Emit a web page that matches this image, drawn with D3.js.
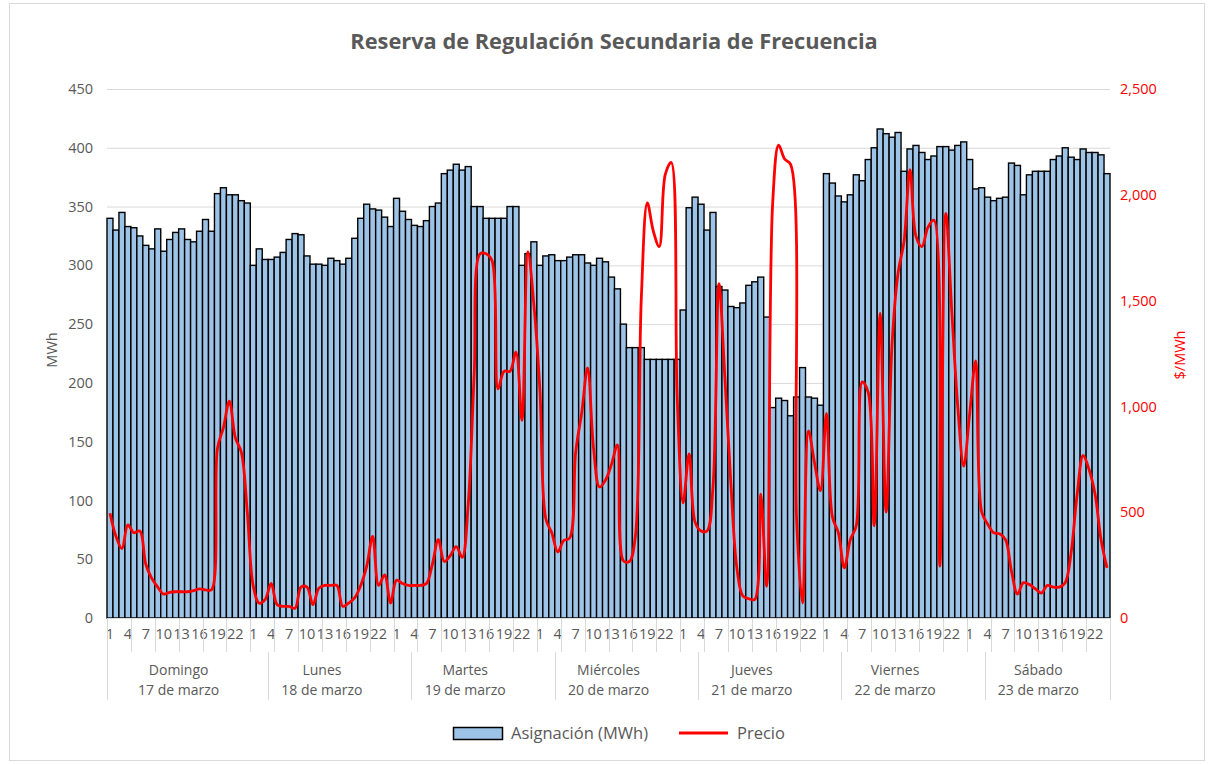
<!DOCTYPE html>
<html><head><meta charset="utf-8">
<script src="https://cdn.jsdelivr.net/npm/d3@7"></script>
<style>body{margin:0;background:#fff} svg{display:block} text{font-family:"Open Sans",sans-serif}</style>
</head><body><svg id="c" width="1211" height="765"></svg>
<script>
const days = ["Domingo","Lunes","Martes","Miércoles","Jueves","Viernes","Sábado"];
const dates = ["17 de marzo","18 de marzo","19 de marzo","20 de marzo","21 de marzo","22 de marzo","23 de marzo"];
const hoursPerDay = 24;
const asignacion = [
 340,330,345,333,332,325,317,314,331,312,322,328,331,322,320,329,339,329,361,366,360,360,355,353,
 300,314,305,305,307,311,322,327,326,308,301,301,300,306,304,301,306,323,340,352,348,347,341,333,
 357,346,339,334,333,338,350,353,378,381,386,381,384,350,350,340,340,340,340,350,350,300,310,320,
 300,308,309,304,304,307,309,309,302,300,306,303,290,280,250,230,230,230,220,220,220,220,220,220,
 262,349,358,352,330,345,282,279,265,264,268,283,286,290,256,179,187,185,172,188,213,188,187,181,
 378,370,359,354,360,377,372,390,400,416,412,409,413,380,399,402,396,390,393,401,401,398,402,405,
 390,365,366,358,355,357,358,387,385,360,377,380,380,380,390,393,400,392,390,399,396,396,394,378];
const precio = [
 495,386,328,440,403,411,254,187,146,113,121,124,124,124,129,138,133,133,801,900,1025,851,784,500,
 150,70,88,163,63,55,55,46,146,146,63,141,154,154,154,55,71,96,154,245,386,154,204,71,
 179,163,154,154,154,163,254,370,267,295,337,287,536,1150,1721,1721,1688,1083,1166,1166,1257,934,1730,1481,
 1083,469,403,312,366,378,784,967,1182,801,619,652,726,818,270,267,386,1514,1962,1829,1755,2095,2153,1050,
 544,776,453,411,411,619,1580,1133,635,237,104,91,88,585,150,1962,2235,2169,2144,469,71,884,735,602,
 967,478,403,237,370,436,1116,1066,436,1440,500,1298,1630,1779,2119,1804,1755,1846,1880,245,1912,1450,1000,718,
 967,1215,502,444,403,398,370,221,113,167,158,138,118,154,146,146,167,312,585,768,701,585,370,237];
const yTicksLeft = [0,50,100,150,200,250,300,350,400,450];
const yTicksRight = [0,500,1000,1500,2000,2500];

const svg = d3.select("#c");
const m = {left:107, right:1110, top:89, bottom:618};
const gray = "#595959", grid = "#d9d9d9";
const cats = d3.range(asignacion.length);
const x = d3.scaleBand().domain(cats).range([m.left, m.right]).padding(0);
const bw = x.bandwidth();
const y = d3.scaleLinear().domain([0,450]).range([m.bottom, m.top]);
const y2 = d3.scaleLinear().domain([0,2500]).range([m.bottom, m.top]);

svg.append("rect").attr("x",9.5).attr("y",3.5).attr("width",1195).attr("height",757)
  .attr("fill","#fff").attr("stroke",grid);

svg.append("text").attr("x",614).attr("y",49).attr("text-anchor","middle")
  .attr("font-size",21.8).attr("font-weight","bold").attr("fill",gray)
  .text("Reserva de Regulación Secundaria de Frecuencia");

// gridlines
svg.append("g").selectAll("line").data(yTicksLeft.filter(d=>d>0)).join("line")
  .attr("x1",m.left).attr("x2",m.right).attr("y1",d=>y(d)+0.5).attr("y2",d=>y(d)+0.5)
  .attr("stroke",grid).attr("stroke-width",1);

// bars
svg.append("g").selectAll("rect").data(asignacion).join("rect")
  .attr("x",(d,i)=>x(i)).attr("y",d=>y(d)).attr("width",bw).attr("height",d=>y(0)-y(d))
  .attr("fill","#9dc3e6").attr("stroke","#000").attr("stroke-width",1.4);

// baseline
svg.append("line").attr("x1",m.left).attr("x2",m.right).attr("y1",m.bottom+0.5).attr("y2",m.bottom+0.5)
  .attr("stroke",grid);

// price line
const line = d3.line().x((d,i)=>x(i)+bw/2).y(d=>y2(d)).curve(d3.curveCatmullRom.alpha(0.5));
svg.append("path").datum(precio).attr("d",line).attr("fill","none")
  .attr("stroke","#ff0000").attr("stroke-width",2.8).attr("stroke-linejoin","round");

const fs = 14.5;
// left axis
const gl = svg.append("g").attr("transform",`translate(${m.left},0)`)
  .call(d3.axisLeft(y).tickValues(yTicksLeft).tickSize(0).tickPadding(14));
gl.select(".domain").remove();
gl.selectAll("text").attr("fill",gray).attr("font-size",fs).attr("font-family","Open Sans");

// right axis
const gr = svg.append("g").attr("transform",`translate(${m.right},0)`)
  .call(d3.axisRight(y2).tickValues(yTicksRight).tickFormat(d3.format(",")).tickSize(0).tickPadding(10));
gr.select(".domain").remove();
gr.selectAll("text").attr("fill","#ff0000").attr("font-size",fs).attr("font-family","Open Sans");

// axis titles
svg.append("text").attr("transform","translate(57,350) rotate(-90)").attr("text-anchor","middle")
  .attr("font-size",fs).attr("fill",gray).text("MWh");
svg.append("text").attr("transform","translate(1185,355) rotate(-90)").attr("text-anchor","middle")
  .attr("font-size",fs).attr("fill","#ff0000").text("$/MWh");

// x axis hour labels
const gx = svg.append("g").attr("transform",`translate(0,${m.bottom})`)
  .call(d3.axisBottom(x).tickValues(cats.filter(i=>i%3===0)).tickFormat(i=>i%hoursPerDay+1).tickSize(0).tickPadding(11));
gx.select(".domain").remove();
gx.selectAll("text").attr("fill",gray).attr("font-size",fs).attr("font-family","Open Sans");

// tick marks every 4 categories
const tickIdx = d3.range(0, asignacion.length+1, 4);
svg.append("g").selectAll("line").data(tickIdx).join("line")
  .attr("x1",i=>Math.round(m.left+i*bw)+0.5).attr("x2",i=>Math.round(m.left+i*bw)+0.5)
  .attr("y1",m.bottom).attr("y2",652).attr("stroke",grid);
// group separators
const sepIdx = [0].concat(d3.range(1,days.length).map(d=>d*hoursPerDay+3)).concat([asignacion.length]);
svg.append("g").selectAll("line").data(sepIdx).join("line")
  .attr("x1",i=>Math.round(m.left+i*bw)+0.5).attr("x2",i=>Math.round(m.left+i*bw)+0.5)
  .attr("y1",(i,k)=>(k===0||k===sepIdx.length-1)?m.bottom:652).attr("y2",700).attr("stroke",grid);

// day labels
const gd = svg.append("g");
days.forEach((d,k)=>{
  const cx = x(k*hoursPerDay) + hoursPerDay*bw/2;
  gd.append("text").attr("x",cx).attr("y",675).attr("text-anchor","middle").attr("font-size",14).attr("fill",gray).text(d);
  gd.append("text").attr("x",cx).attr("y",695).attr("text-anchor","middle").attr("font-size",14).attr("fill",gray).text(dates[k]);
});

// legend
svg.append("rect").attr("x",453.5).attr("y",727.5).attr("width",49).attr("height",12)
  .attr("fill","#9dc3e6").attr("stroke","#000").attr("stroke-width",1.5);
svg.append("text").attr("x",511).attr("y",739).attr("font-size",16.5).attr("fill",gray).text("Asignación (MWh)");
svg.append("line").attr("x1",679).attr("x2",728).attr("y1",733).attr("y2",733)
  .attr("stroke","#ff0000").attr("stroke-width",3);
svg.append("text").attr("x",737).attr("y",739).attr("font-size",16.5).attr("fill",gray).text("Precio");
</script></body></html>
